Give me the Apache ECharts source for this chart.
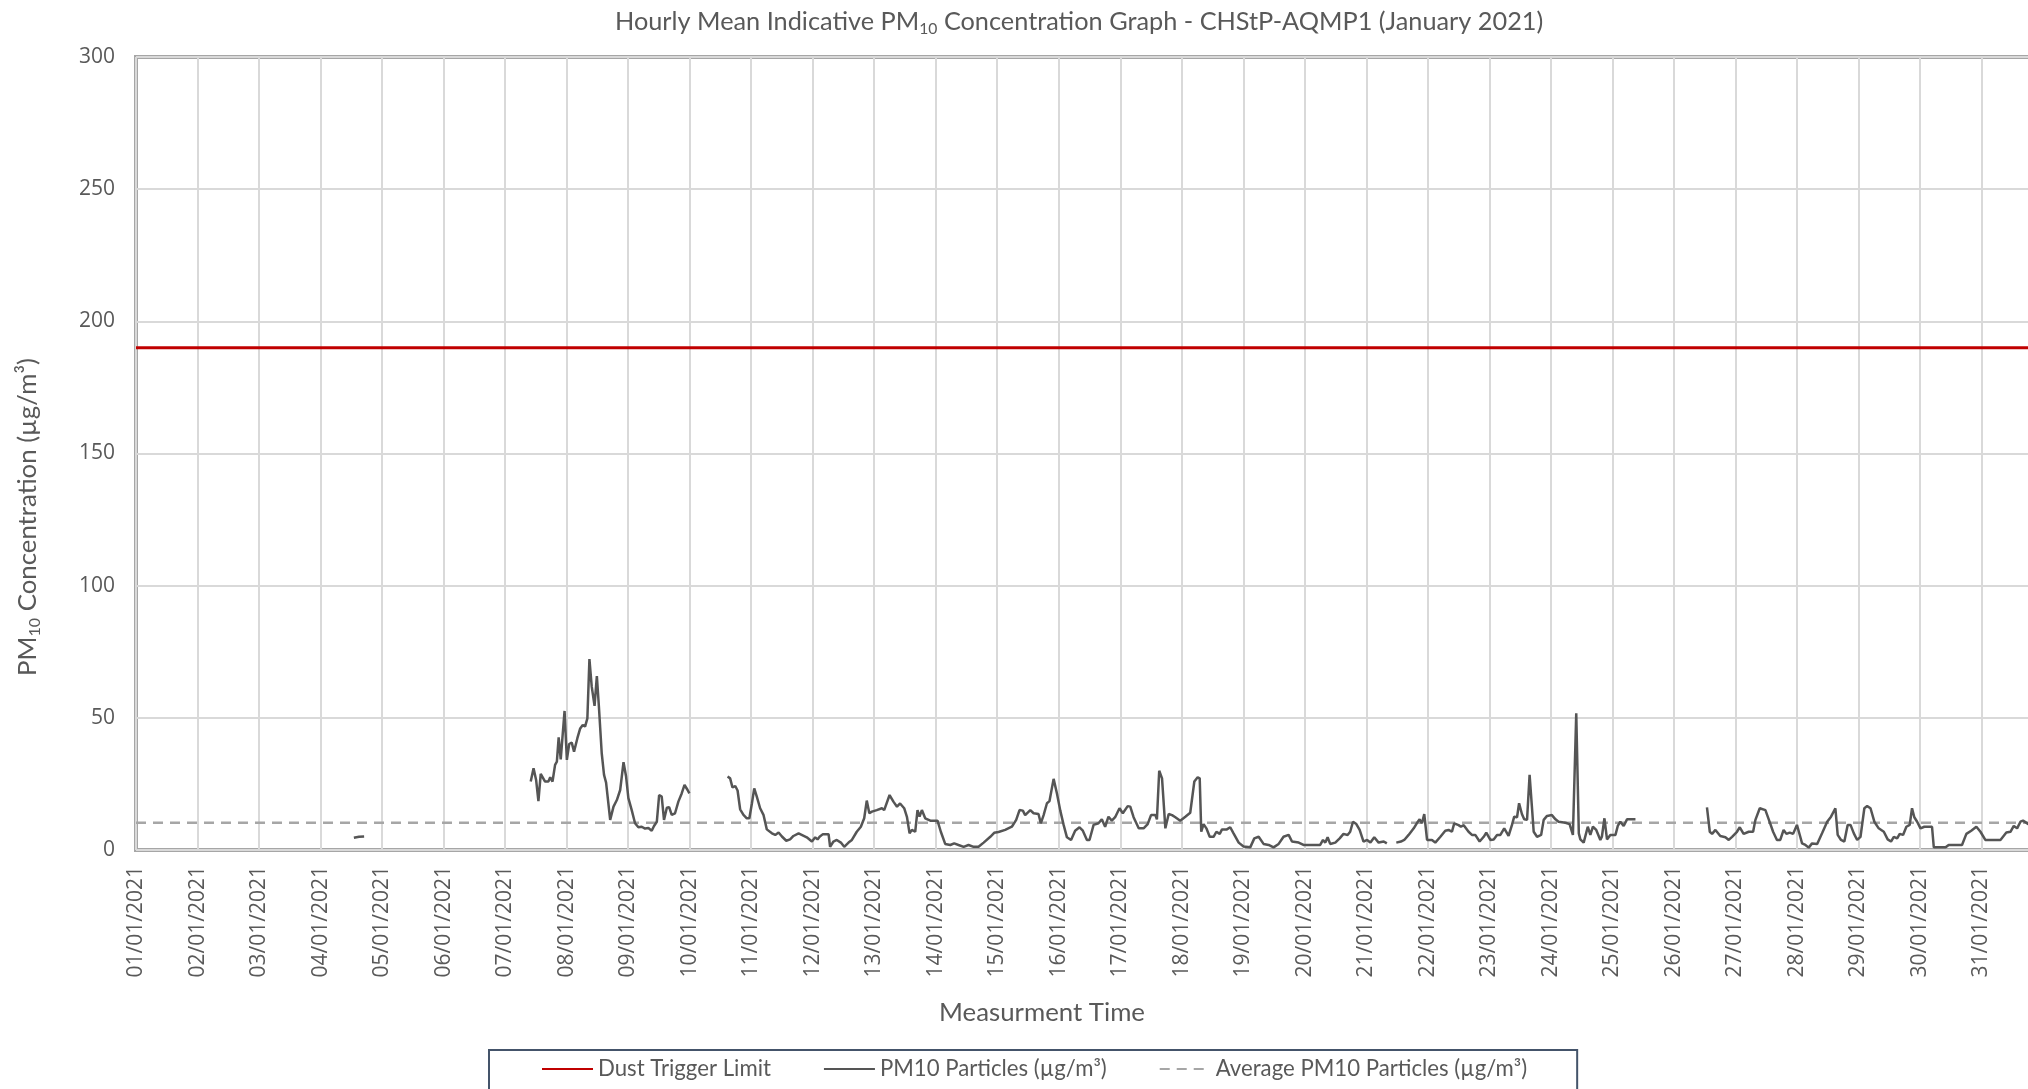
<!DOCTYPE html>
<html>
<head>
<meta charset="utf-8">
<script src="https://cdn.jsdelivr.net/npm/echarts@6/dist/echarts.min.js"></script>
<style>
html,body{margin:0;padding:0;background:#fff;}
#chart{width:2028px;height:1089px;}
</style>
</head>
<body>
<div id="chart"></div>
<script>
// ---- data ----
const dayLabels = ['01/01/2021','02/01/2021','03/01/2021','04/01/2021','05/01/2021','06/01/2021','07/01/2021','08/01/2021','09/01/2021','10/01/2021','11/01/2021','12/01/2021','13/01/2021','14/01/2021','15/01/2021','16/01/2021','17/01/2021','18/01/2021','19/01/2021','20/01/2021','21/01/2021','22/01/2021','23/01/2021','24/01/2021','25/01/2021','26/01/2021','27/01/2021','28/01/2021','29/01/2021','30/01/2021','31/01/2021'];
const yTicks = [0, 50, 100, 150, 200, 250, 300];
const dustTriggerLimit = 190;
const averagePM10 = 10.3;
const monthHours = 744;
// hourly PM10 values as [hour since 01/01 00:00, µg/m³], split where data is missing
const pmSeg1 = [[85,4.6],[86,4.8],[87,5.0],[89,5.1]];
const pmSeg2 = [[154.0,25.9],[155.1,30.9],[156.1,26.5],[157.0,18.5],[157.9,28.8],[159.6,25.9],[160.9,25.9],[161.6,27.5],[162.5,25.9],[163.5,32.2],[164.2,33.4],[164.9,42.6],[165.7,34.3],[167.2,52.6],[168.1,34.1],[169.0,40.1],[170.0,40.6],[170.9,37.2],[172.2,42.3],[173.3,46.0],[174.3,47.3],[175.2,46.7],[176.1,49.8],[176.9,72.2],[177.8,61.8],[178.9,54.5],[179.8,65.8],[180.6,54.2],[181.7,36.6],[182.6,28.4],[183.4,25.5],[185.0,11.4],[186.3,16.4],[187.6,18.9],[188.9,22.7],[190.2,33.2],[191.2,27.8],[192.1,19.6],[193.4,15.1],[194.7,10.1],[196.0,8.6],[197.3,8.8],[198.6,8.1],[199.9,8.3],[201.2,7.3],[202.1,9.1],[203.2,10.7],[204.1,20.8],[205.1,20.2],[206.0,11.4],[207.1,16.0],[208.0,16.2],[209.0,13.3],[210.3,13.9],[211.6,18.3],[212.9,21.4],[214.0,24.6],[215.2,22.7],[215.9,21.4]];
const pmSeg3 = [[230.8,27.8],[231.8,27.1],[232.7,23.7],[233.8,24.2],[234.7,22.5],[235.7,15.4],[237.0,13.3],[238.3,12.0],[239.3,12.0],[240.3,17.7],[241.2,23.3],[242.2,20.2],[243.5,15.8],[244.8,13.3],[246.1,7.8],[248.1,6.3],[249.4,5.7],[250.7,6.6],[252.0,5.1],[253.7,3.5],[255.2,4.0],[256.5,5.3],[258.5,6.3],[261.7,4.8],[263.7,3.2],[265.0,4.8],[265.9,4.0],[266.7,5.0],[268.0,6.0],[270.2,6.0],[270.8,1.2],[272.1,3.2],[273.4,3.8],[275.0,2.8],[276.3,1.2],[278.0,2.8],[279.3,3.8],[281.2,6.9],[282.8,8.8],[284.1,12.0],[285.1,18.7],[286.1,13.9],[287.1,14.5],[289.0,15.1],[291.0,15.8],[291.9,15.1],[294.0,20.8],[295.5,18.3],[296.9,16.4],[298.1,17.6],[299.7,15.8],[300.8,12.4],[301.8,6.3],[302.7,7.6],[304.0,6.9],[304.9,15.1],[305.7,12.6],[306.6,15.1],[307.9,12.0],[309.9,11.1],[312.7,11.1],[314.0,6.9],[315.7,2.3],[317.7,1.9],[319.2,2.5],[320.9,1.9],[322.9,1.2],[324.8,1.9],[326.8,1.2],[328.7,1.2],[330.7,2.8],[333.3,5.0],[334.8,6.5],[336.5,6.8],[339.1,7.6],[341.7,8.8],[343.4,11.4],[344.7,15.1],[346.0,14.9],[346.9,13.2],[348.9,15.1],[350.2,13.9],[352.1,13.6],[353.0,10.1],[354.1,13.2],[355.4,17.7],[356.4,18.5],[358.0,26.9],[359.3,21.4],[360.6,14.9],[361.9,9.5],[363.2,4.8],[364.8,3.8],[366.4,7.3],[368.1,8.6],[369.4,7.3],[371.0,3.8],[372.0,3.8],[373.6,9.5],[375.5,10.1],[376.8,11.6],[378.1,8.8],[379.4,12.6],[380.7,11.1],[382.0,12.4],[383.7,15.8],[385.0,13.9],[386.9,16.6],[387.9,16.4],[389.2,12.4],[391.2,8.2],[393.1,8.2],[394.7,9.8],[396.0,13.2],[397.7,13.2],[398.3,11.6],[399.2,30.0],[400.3,27.1],[401.6,8.2],[402.9,13.6],[404.2,13.2],[405.5,12.4],[407.4,11.1],[409.4,12.6],[411.3,14.1],[412.9,25.9],[414.2,27.5],[415.0,27.1],[415.6,6.9],[416.5,9.8],[417.6,8.2],[418.9,5.0],[420.4,5.0],[421.5,6.9],[422.8,6.1],[423.7,7.8],[425.6,7.8],[426.9,8.6],[428.2,6.3],[430.2,2.8],[432.1,1.3],[434.7,1.0],[436.3,4.4],[438.0,5.0],[439.9,2.3],[441.9,1.9],[443.8,1.0],[445.8,2.3],[447.7,5.0],[449.7,5.7],[451.0,3.2],[453.6,2.8],[455.5,1.9],[458.1,1.9],[462.0,1.9],[463.1,3.8],[464.0,2.8],[464.9,4.8],[465.9,2.3],[467.9,2.8],[469.6,4.4],[471.1,6.1],[472.7,5.7],[473.7,6.9],[474.8,10.7],[476.1,9.8],[477.4,7.6],[478.9,3.2],[480.3,3.8],[481.6,2.8],[483.1,4.8],[484.8,2.8],[486.8,3.2],[488.0,2.5]];
const pmSeg4 = [[491.7,2.8],[493.5,3.2],[494.8,3.8],[496.5,5.7],[498.5,8.2],[499.8,10.3],[500.8,11.6],[501.7,10.1],[502.6,13.6],[503.7,3.8],[505.6,3.8],[506.9,2.8],[508.9,5.0],[510.8,7.3],[512.1,7.6],[513.4,6.9],[514.3,10.1],[516.0,9.4],[516.9,8.8],[518.0,9.4],[519.9,6.9],[521.2,5.7],[522.5,5.7],[524.2,3.2],[525.8,5.0],[526.8,6.6],[528.4,3.8],[529.7,4.0],[531.0,5.7],[532.3,5.7],[533.8,8.2],[535.5,5.3],[536.8,9.4],[537.7,12.6],[538.8,12.4],[539.6,17.7],[540.7,13.6],[541.6,11.6],[542.7,11.4],[543.7,28.4],[544.6,16.4],[545.3,6.9],[546.6,5.0],[548.2,5.7],[549.2,11.4],[550.5,12.9],[552.4,13.2],[553.8,11.6],[555.0,10.7],[557.7,10.3],[559.3,9.8],[560.6,5.7],[561.9,51.7],[562.9,6.3],[563.5,4.0],[564.8,2.8],[566.4,8.8],[567.4,5.7],[568.4,8.8],[569.7,7.6],[571.3,3.8],[571.9,5.0],[572.9,12.0],[573.9,4.0],[575.2,5.7],[577.2,5.7],[578.1,9.1],[579.1,10.7],[580.4,9.1],[581.7,11.6],[583.0,11.6],[585.0,11.6]];
const pmSeg5 = [[612.9,16.1],[614.0,6.9],[614.9,6.1],[616.2,7.6],[618.1,5.3],[620.1,4.8],[621.4,3.8],[622.7,5.0],[624.6,6.9],[625.7,8.6],[627.2,6.1],[629.2,6.9],[630.9,6.9],[631.8,11.4],[633.5,15.8],[635.7,15.1],[637.0,11.6],[638.7,6.9],[640.2,3.8],[641.5,3.8],[642.8,7.6],[643.9,6.1],[645.2,6.6],[646.5,6.1],[648.0,9.5],[649.3,5.0],[650.0,2.5],[651.3,1.9],[652.6,0.9],[653.9,2.5],[655.9,2.3],[657.8,6.3],[659.8,10.7],[661.3,12.6],[663.0,15.8],[663.9,5.7],[665.2,3.8],[666.5,3.2],[667.8,9.5],[668.9,9.5],[670.2,6.3],[671.5,3.8],[672.8,5.0],[674.3,15.8],[675.4,16.6],[676.7,15.8],[678.2,10.7],[679.9,8.2],[681.9,6.9],[683.4,4.0],[684.7,3.2],[685.8,5.0],[687.1,4.4],[688.1,6.1],[689.4,5.7],[690.7,8.8],[692.0,9.5],[692.9,15.8],[693.8,12.4],[694.9,10.7],[696.2,8.2],[697.7,8.8],[700.7,8.8],[701.4,1.0],[702.7,1.0],[706.0,1.0],[707.2,1.9],[712.4,1.9],[714.1,6.1],[716.0,7.3],[718.0,8.8],[719.6,6.9],[721.5,3.8],[727.4,3.8],[729.7,6.6],[731.3,6.9],[732.6,9.1],[733.9,8.2],[735.2,10.7],[736.2,11.1],[738.3,9.8],[739.5,9.6]];
const pmSegments = [pmSeg1, pmSeg2, pmSeg3, pmSeg4, pmSeg5];

// ---- build series data (gaps become '-') ----
const pmData = [];
pmSegments.forEach((seg, i) => {
  if (i > 0) pmData.push([seg[0][0] - 0.5, '-']);
  seg.forEach(p => pmData.push(p));
});

// ---- fit Calibri-like text widths with Lato ----
const FAMILY = 'Lato';
const mctx = document.createElement('canvas').getContext('2d');
function w100(t, k) { mctx.font = 'normal ' + (100 * k) + 'px ' + FAMILY; return mctx.measureText(t).width; }
function fit(parts, target) { let w = 0; parts.forEach(p => w += w100(p[0], p[1])); return 100 * target / w; }
const SUB = 0.62;
const titleSize = fit([['Hourly Mean Indicative PM',1],['10',SUB],[' Concentration Graph - CHStP-AQMP1 (January 2021)',1]], 929);
const yNameSize = fit([['PM',1],['10',SUB],[' Concentration (µg/m³)',1]], 318);
const xNameSize = fit([['Measurment Time',1]], 206);
const legendSize = fit([['Dust Trigger Limit',1]], 173);

const GREY = '#595959';
const chart = echarts.init(document.getElementById('chart'), null, {renderer: 'canvas'});
chart.setOption({
  animation: false,
  backgroundColor: '#ffffff',
  title: {
    text: '{a|Hourly Mean Indicative PM}{s|10}{a| Concentration Graph - CHStP-AQMP1 (January 2021)}',
    left: 615,
    top: 7,
    padding: 0,
    textStyle: {
      fontWeight: 'normal',
      rich: {
        a: {fontFamily: FAMILY, fontWeight: 'normal', fontSize: titleSize, color: GREY, lineHeight: 30, verticalAlign: 'middle'},
        s: {fontFamily: FAMILY, fontWeight: 'normal', fontSize: titleSize * SUB, color: GREY, lineHeight: 12, verticalAlign: 'bottom'}
      }
    }
  },
  legend: {
    left: 489,
    top: 1050,
    orient: 'horizontal',
    itemWidth: 51,
    itemHeight: 14,
    itemGap: 52,
    padding: [8, 50, 40, 52],
    borderColor: '#44546A',
    borderWidth: 2,
    itemStyle: {opacity: 0},
    textStyle: {fontFamily: FAMILY, fontSize: legendSize, color: GREY},
    data: ['Dust Trigger Limit', 'PM10 Particles (µg/m³)', 'Average PM10 Particles (µg/m³)']
  },
  grid: {
    left: 136, right: -15, top: 57, bottom: 239,
    containLabel: false,
    outerBoundsMode: 'none',
    show: true,
    borderColor: '#A6A6A6',
    borderWidth: 4,
    backgroundColor: 'transparent'
  },
  xAxis: {
    type: 'value',
    min: 0,
    max: monthHours,
    interval: 24,
    axisLine: {show: false},
    axisTick: {show: false},
    splitLine: {show: true, lineStyle: {color: '#D9D9D9', width: 2}},
    axisLabel: {
      rotate: 90,
      margin: 16,
      showMinLabel: true,
      showMaxLabel: true,
      fontFamily: 'Open Sans',
      fontSize: 21,
      color: GREY,
      formatter: v => dayLabels[Math.round(v / 24)] || ''
    },
    name: 'Measurment Time',
    nameLocation: 'middle',
    nameGap: 147,
    nameMoveOverlap: false,
    nameTextStyle: {fontFamily: FAMILY, fontSize: xNameSize, color: GREY, lineHeight: 32, padding: [0, 95, 0, 0]}
  },
  yAxis: {
    type: 'value',
    min: yTicks[0],
    max: yTicks[yTicks.length - 1],
    interval: yTicks[1] - yTicks[0],
    axisLine: {show: false},
    axisTick: {show: false},
    splitLine: {show: true, lineStyle: {color: '#D9D9D9', width: 2}},
    axisLabel: {margin: 21, fontFamily: 'Open Sans', fontSize: 21, color: GREY},
    name: '{a|PM}{s|10}{a| Concentration (µg/m³)}',
    nameLocation: 'middle',
    nameRotate: 90,
    nameGap: 93,
    nameMoveOverlap: false,
    nameTextStyle: {
      padding: [0, 127, 0, 0],
      rich: {
        a: {fontFamily: FAMILY, fontSize: yNameSize, color: GREY, lineHeight: 30, verticalAlign: 'middle'},
        s: {fontFamily: FAMILY, fontSize: yNameSize * SUB, color: GREY, lineHeight: 12, verticalAlign: 'bottom'}
      }
    }
  },
  series: [
    {
      name: 'Dust Trigger Limit',
      type: 'line',
      symbol: 'none',
      z: 4,
      color: '#C00000',
      lineStyle: {color: '#C00000', width: 3},
      data: [[0, dustTriggerLimit], [monthHours, dustTriggerLimit]]
    },
    {
      name: 'PM10 Particles (µg/m³)',
      type: 'line',
      symbol: 'none',
      connectNulls: false,
      z: 3,
      color: '#555555',
      lineStyle: {color: '#555555', width: 2.5},
      data: pmData
    },
    {
      name: 'Average PM10 Particles (µg/m³)',
      type: 'line',
      symbol: 'none',
      z: 2,
      color: '#A6A6A6',
      lineStyle: {color: '#A6A6A6', width: 2.5, type: [10, 7]},
      data: [[0, averagePM10], [monthHours, averagePM10]]
    }
  ]
});
</script>
</body>
</html>
